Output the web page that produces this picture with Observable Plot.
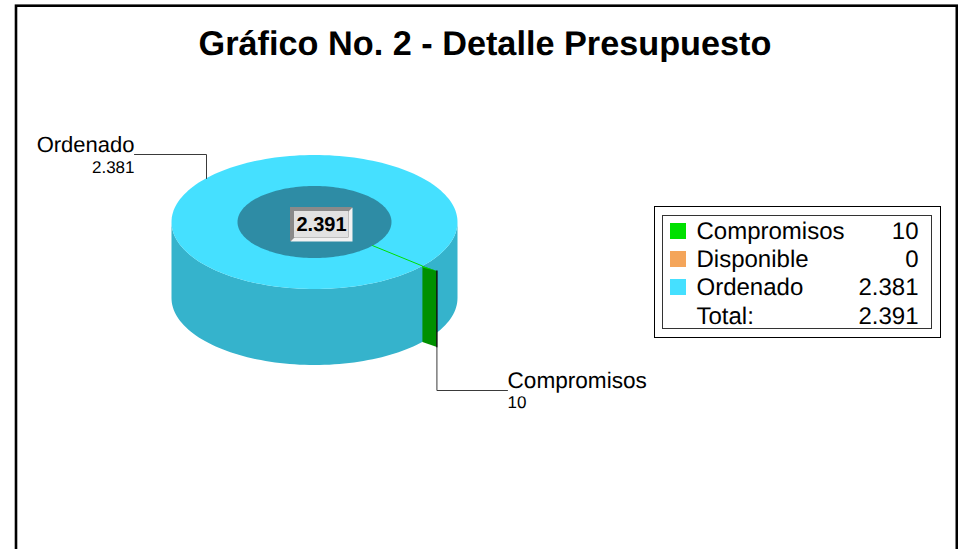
<!DOCTYPE html>
<html>
<head>
<meta charset="utf-8">
<script src="https://cdn.jsdelivr.net/npm/d3@7"></script>
<script src="https://cdn.jsdelivr.net/npm/@observablehq/plot@0.6"></script>
<style>
html,body{margin:0;padding:0;background:#fff;overflow:hidden}
svg{display:block}
svg text{text-rendering:geometricPrecision}
</style>
</head>
<body>
<div id="chart"></div>
<script>
const titleText = "Gráfico No. 2 - Detalle Presupuesto";
const categories = ["Compromisos", "Disponible", "Ordenado"];
const values = [10, 0, 2381];
const topColors = ["#00E000", "#F4A55A", "#45E0FF"];
const sideColors = ["#009000", "#C08040", "#35B3CC"];
const totalLabel = "Total:";

const W = 958, H = 549, F = "'Liberation Sans', Arial, sans-serif";
const fmt = d3.formatLocale({decimal: ",", thousands: ".", grouping: [3], currency: ["", ""]}).format(",d");
const total = d3.sum(values);

// Donut geometry (projection of a tilted ring)
const cx = 314, cy = 221.5, rx = 143, ry = 67, ix = 77, iy = 36, depth = 76;
const startDeg = 39.5;
const rad = d => d * Math.PI / 180;
const outerPt = (a, dy = 0) => ({x: cx + rx * Math.cos(rad(a)), y: cy + ry * Math.sin(rad(a)) + dy});
const innerPt = a => ({x: cx + ix * Math.cos(rad(a)), y: cy + iy * Math.sin(rad(a))});
const steps = (a0, a1) => {
  const n = Math.max(2, Math.ceil(Math.abs(a1 - a0) / 2));
  return d3.range(n + 1).map(i => a0 + (a1 - a0) * i / n);
};

let acc = startDeg;
const slices = categories.map((name, i) => {
  const a0 = acc, a1 = acc + values[i] / total * 360;
  acc = a1;
  return {name, value: values[i], a0, a1, top: topColors[i], side: sideColors[i]};
});
const compromisos = slices[0], ordenado = slices[2];

// Polygons
const topDisc = steps(0, 360).map(a => outerPt(a));
const wallPoly = [...steps(0, 180).map(a => outerPt(a)), ...steps(180, 0).map(a => outerPt(a, depth))];
const holePoly = steps(0, 360).map(innerPt);

// Compromisos slice: thin wedge whose cut wall faces the viewer
const edge = compromisos.a1;
const pA = outerPt(edge), pI = innerPt(edge);
const pB = {x: pA.x + 14.5, y: pA.y + 5};
const cutWall = [pA, pB, {x: pB.x, y: pB.y + depth}, {x: pA.x, y: pA.y + depth}];
const cutTop = [pA, pB, {x: pA.x, y: pA.y + 1.6}];

const poly = (pts, fill) => Plot.line(pts, {x: "x", y: "y", fill, stroke: "none", curve: "linear-closed"});
const seg = (pts, stroke = "#3a3a3a", strokeWidth = 1) => Plot.line(pts, {x: "x", y: "y", stroke, strokeWidth, curve: "linear"});
const txt = (x, y, text, fontSize, opts = {}) => Plot.text([text], {
  x: () => x, y: () => y, text: d => d, fontSize, fontFamily: F, fill: "#000",
  lineAnchor: "bottom", textAnchor: "start", ...opts
});
const box = (x1, y1, x2, y2, o) => Plot.rect([0], {x1: () => x1, x2: () => x2, y1: () => y1, y2: () => y2, ...o});

// Centre box
const b = {x1: 290, y1: 207, x2: 352, y2: 241, bev: 4};
const bevelLight = [
  {x: b.x2, y: b.y1}, {x: b.x2, y: b.y2}, {x: b.x1, y: b.y2},
  {x: b.x1 + b.bev, y: b.y2 - b.bev}, {x: b.x2 - b.bev, y: b.y2 - b.bev}, {x: b.x2 - b.bev, y: b.y1 + b.bev}
];

// Legend
const lgX = 670, lgTextX = 696, lgValX = 918, lgTop = 223, lgStep = 28;
const lgBase = i => lgTop + 15.5 + i * lgStep;
const lgRows = slices.map((s, i) => ({...s, i}));

const plot = Plot.plot({
  width: W, height: H,
  marginTop: 0, marginRight: 0, marginBottom: 0, marginLeft: 0,
  x: {domain: [0, W], range: [0, W], axis: null},
  y: {domain: [0, H], range: [0, H], axis: null},
  style: {background: "#fff", overflow: "hidden"},
  marks: [
    // page frame
    box(16, 5.7, 956.8, H + 10, {fill: "none", stroke: "#000", strokeWidth: 2.6}),
    Plot.text([titleText], {x: () => 484.5, y: () => 54, text: d => d, fontSize: 34.25, fontWeight: "bold", fontFamily: F, fill: "#000", lineAnchor: "bottom", textAnchor: "middle"}),

    // donut: outer wall, top surface, hole, cut
    poly(wallPoly, ordenado.side),
    poly(topDisc, ordenado.top),
    poly(holePoly, "#2E8CA5"),
    seg([pI, pA], compromisos.top, 1),
    poly(cutWall, compromisos.side),
    poly(cutTop, compromisos.top),

    // leaders
    seg([{x: 134, y: 154}, {x: 206, y: 154}, {x: 206, y: 178}]),
    seg([{x: pB.x, y: pB.y}, {x: pB.x, y: 390}, {x: 507, y: 390}]),
    seg([pB, {x: pB.x, y: pB.y + depth}], "#000", 1),

    // slice labels
    txt(134, 151.5, ordenado.name, 22, {textAnchor: "end"}),
    txt(134, 172.5, fmt(ordenado.value), 17, {textAnchor: "end"}),
    txt(507, 387, compromisos.name, 22.6),
    txt(507, 407, fmt(compromisos.value), 17),

    // centre total
    box(b.x1, b.y1, b.x2, b.y2, {fill: "#8A8A8A"}),
    poly(bevelLight, "#F2F2F2"),
    box(b.x1 + b.bev, b.y1 + b.bev, b.x2 - b.bev, b.y2 - b.bev, {fill: "#E2E2E2"}),
    txt(321, 230.5, fmt(total), 20, {fontWeight: "bold", textAnchor: "middle"}),

    // legend
    box(654.5, 206.5, 940.5, 337.5, {fill: "#fff", stroke: "#000", strokeWidth: 1}),
    box(662.5, 215.5, 931.5, 328.5, {fill: "none", stroke: "#333", strokeWidth: 1}),
    Plot.rect(lgRows, {x1: () => lgX, x2: () => lgX + 16, y1: d => lgTop + d.i * lgStep, y2: d => lgTop + d.i * lgStep + 16, fill: d => d.top}),
    Plot.text(lgRows, {x: () => lgTextX, y: d => lgBase(d.i), text: "name", fontSize: 24, fontFamily: F, fill: "#000", textAnchor: "start", lineAnchor: "bottom"}),
    Plot.text(lgRows, {x: () => lgValX, y: d => lgBase(d.i), text: d => fmt(d.value), fontSize: 24, fontFamily: F, fill: "#000", textAnchor: "end", lineAnchor: "bottom"}),
    txt(lgTextX, lgBase(3) + 1, totalLabel, 24),
    txt(lgValX, lgBase(3) + 1, fmt(total), 24, {textAnchor: "end"})
  ]
});
document.getElementById("chart").appendChild(plot);
</script>
</body>
</html>
